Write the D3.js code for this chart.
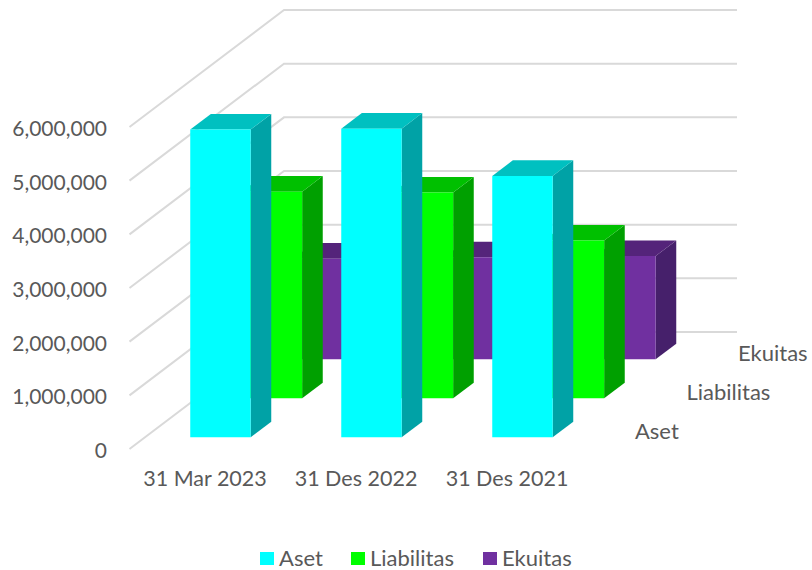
<!DOCTYPE html>
<html>
<head>
<meta charset="utf-8">
<script src="https://cdn.jsdelivr.net/npm/d3@7"></script>
<style>
    html, body { margin: 0; padding: 0; background: #fff; }
    svg { display: block; }
    text { font-family: Lato, "Open Sans", sans-serif; fill: #595959; }
</style>
</head>
<body>
<svg id="chart" width="812" height="570"></svg>
<script>
// Chart data
const categories = ["31 Mar 2023", "31 Des 2022", "31 Des 2021"];
const seriesNames = ["Aset", "Liabilitas", "Ekuitas"];
const aset = [5735000, 5750000, 4870000];
const liabilitas = [3850000, 3835000, 2940000];
const ekuitas = [1875000, 1900000, 1925000];
const yTicks = [0, 1000000, 2000000, 3000000, 4000000, 5000000, 6000000];

const seriesValues = [aset, liabilitas, ekuitas];
const faceColours = ["#00ffff", "#00ff00", "#7030a0"];
const topColours = ["#00c0c0", "#00c000", "#54247a"];
const sideColours = ["#00a2a6", "#00a000", "#46206b"];

const svg = d3.select("#chart");

// Depth of the 3D box, in pixels
const depthX = 154.5;
const depthY = 117;

const x = d3.scaleBand().domain(categories).range([129.5, 582.5]).paddingInner(0.6).paddingOuter(0.3);
const y = d3.scaleLinear().domain([0, 6000000]).range([449, 127]);
const z = d3.scaleBand().domain(seriesNames).range([0, 1]).paddingInner(0.6).paddingOuter(0.3);

// Turn (pixel x, value, depth 0..1) into a screen point
function project(px, value, depth) {
    return [px + depth * depthX, y(value) - depth * depthY];
}

function poly(points) {
    return points.map(p => p.join(",")).join(" ");
}

// Gridlines: diagonal on the left wall, then straight along the back wall
const grid = svg.append("g").attr("class", "grid");
yTicks.forEach(t => {
    const front = project(x.range()[0], t, 0);
    const back = project(x.range()[0], t, 1);
    const end = project(x.range()[1], t, 1);
    grid.append("polyline")
        .attr("points", poly([front, back, end]))
        .attr("fill", "none")
        .attr("stroke", "#d9d9d9")
        .attr("stroke-width", 2);
});

// Bars, from the back row to the front row
const rows = d3.range(seriesNames.length).reverse();
rows.forEach(s => {
    const name = seriesNames[s];
    const z0 = z(name);
    const z1 = z0 + z.bandwidth();
    const row = svg.append("g").attr("class", "row");

    categories.forEach((c, i) => {
        const v = seriesValues[s][i];
        const x0 = x(c);
        const x1 = x0 + x.bandwidth();

        // side
        row.append("polygon")
            .attr("points", poly([project(x1, 0, z0), project(x1, 0, z1), project(x1, v, z1), project(x1, v, z0)]))
            .attr("fill", sideColours[s]);
        // top
        row.append("polygon")
            .attr("points", poly([project(x0, v, z0), project(x1, v, z0), project(x1, v, z1), project(x0, v, z1)]))
            .attr("fill", topColours[s]);
        // front
        row.append("polygon")
            .attr("points", poly([project(x0, 0, z0), project(x1, 0, z0), project(x1, v, z0), project(x0, v, z0)]))
            .attr("fill", faceColours[s]);
    });
});

// Value axis
const yAxis = svg.append("g")
    .attr("transform", "translate(115,1.5)")
    .call(d3.axisLeft(y).tickValues(yTicks).tickFormat(d3.format(",")).tickSize(0));
yAxis.select(".domain").remove();
yAxis.selectAll("text").attr("font-size", 21).attr("x", -8).attr("dy", "0.33em")
    .style("font-family", "Lato, sans-serif").style("fill", "#595959");

// Category axis
const xAxis = svg.append("g")
    .attr("transform", "translate(0,479)");
const xLabels = d3.scaleBand().domain(categories).range(x.range());
xAxis.call(d3.axisBottom(xLabels).tickSize(0));
xAxis.select(".domain").remove();
xAxis.selectAll("text").attr("font-size", 21.5).attr("y", 0).attr("dy", "0.33em")
    .style("font-family", "Lato, sans-serif").style("fill", "#595959");

// Series names along the depth axis
svg.append("g").selectAll("text")
    .data(seriesNames)
    .enter().append("text")
    .attr("x", d => project(x.range()[1], 0, z(d))[0] + 37)
    .attr("y", d => project(x.range()[1], 0, z(d))[1] - 6)
    .attr("dy", "0.33em")
    .attr("font-size", 22)
    .text(d => d);

// Legend
const legendSwatchX = [260, 351, 483];
const legend = svg.append("g").selectAll("g")
    .data(seriesNames)
    .enter().append("g")
    .attr("transform", (d, i) => "translate(" + legendSwatchX[i] + ",552)");
legend.append("rect")
    .attr("width", 14)
    .attr("height", 13)
    .attr("fill", (d, i) => faceColours[i]);
legend.append("text")
    .attr("x", 19)
    .attr("y", 7)
    .attr("dy", "0.33em")
    .attr("font-size", 22)
    .text(d => d);
</script>
</body>
</html>
